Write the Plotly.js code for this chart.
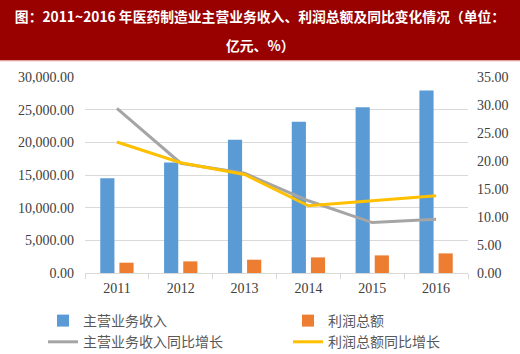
<!DOCTYPE html>
<html>
<head>
<meta charset="utf-8">
<script src="https://cdn.plot.ly/plotly-3.0.1.min.js"></script>
<style>
html,body{margin:0;padding:0;background:#fff;}
#chart{width:520px;height:354px;}
</style>
</head>
<body>
<div id="chart"></div>
<script>
const years = ['2011','2012','2013','2014','2015','2016'];
const revenue = [14484, 16930, 20390, 23140, 25370, 27920];
const profit = [1576, 1780, 2034, 2390, 2695, 3000];
const revenueGrowth = [29.4, 19.6, 17.8, 12.9, 9.0, 9.6];
const profitGrowth = [23.4, 19.7, 17.6, 12.0, 12.9, 13.8];
const names = ['主营业务收入', '利润总额', '主营业务收入同比增长', '利润总额同比增长'];
const titleLine1 = '图：2011~2016 年医药制造业主营业务收入、利润总额及同比变化情况（单位：';
const titleLine2 = '亿元、%）';

const serif = '"Liberation Serif", "Times New Roman", serif';
const cjk = '"Noto Sans CJK SC", sans-serif';

const traces = [
  {type:'bar', x:years, y:revenue, name:names[0], marker:{color:'#5B9BD5'}, legend:'legend', legendgroup:'a', hoverinfo:'skip'},
  {type:'bar', x:years, y:profit, name:names[1], marker:{color:'#ED7D31'}, legend:'legend2', legendgroup:'b', hoverinfo:'skip'},
  {type:'scatter', mode:'lines', x:years, y:revenueGrowth, name:names[2], yaxis:'y2', line:{color:'#A5A5A5', width:3}, legend:'legend', legendgroup:'c', hoverinfo:'skip'},
  {type:'scatter', mode:'lines', x:years, y:profitGrowth, name:names[3], yaxis:'y2', line:{color:'#FFC000', width:3}, legend:'legend2', legendgroup:'d', hoverinfo:'skip'}
];

const legendCommon = {orientation:'v', yanchor:'top', xanchor:'left', bgcolor:'rgba(0,0,0,0)', font:{family:cjk, size:14, color:'#595959'}, tracegroupgap:3, traceorder:'normal'};

const layout = {
  width:520, height:354,
  margin:{l:85, r:52, t:77, b:81, autoexpand:false},
  paper_bgcolor:'#fff', plot_bgcolor:'#fff',
  barmode:'group', bargap:0.4, bargroupgap:0.26,
  title:{text:titleLine1, font:{family:cjk, size:13.8, color:'#fff', weight:'bold'}, x:0.5, xanchor:'center', xref:'container', y:1-17/354, yanchor:'middle', yref:'container', automargin:false},
  annotations:[{text:titleLine2, xref:'paper', yref:'paper', x:(260-85)/383, y:1+(273-45-196)/196, yanchor:'middle', xanchor:'center', showarrow:false, font:{family:cjk, size:13.8, color:'#fff', weight:'bold'}}],
  shapes:[
    {type:'rect', xref:'paper', yref:'paper', x0:-1, x1:2, y0:1+(273-60.5-196)/196, y1:2, fillcolor:'#990000', line:{width:0}, layer:'below'},
    {type:'line', xref:'paper', yref:'paper', x0:-1, x1:2, y0:1+(273-61-196)/196, y1:1+(273-61-196)/196, line:{color:'#F2C4C4', width:1}, layer:'below'}
  ],
  xaxis:{type:'category', showgrid:false, showline:true, linecolor:'#D9D9D9', linewidth:1, ticks:'outside', tickson:'boundaries', ticklen:5, tickcolor:'#D9D9D9', tickfont:{family:serif, size:14, color:'#404040'}, ticklabelstandoff:2, fixedrange:true, automargin:false},
  yaxis:{range:[0,30000], dtick:5000, tickformat:',.2f', showgrid:true, gridcolor:'#D9D9D9', gridwidth:1, zeroline:false, showline:false, tickfont:{family:serif, size:14, color:'#404040'}, ticklabelstandoff:10, fixedrange:true, automargin:false},
  yaxis2:{range:[0,35], dtick:5, tickformat:'.2f', overlaying:'y', side:'right', showgrid:false, zeroline:false, showline:false, tickfont:{family:serif, size:14, color:'#404040'}, ticklabelstandoff:8, fixedrange:true, automargin:false},
  legend:Object.assign({}, legendCommon, {x:(43-85)/383, y:-(305-273)/196}),
  legend2:Object.assign({}, legendCommon, {x:(288-85)/383, y:-(305-273)/196})
};

Plotly.newPlot('chart', traces, layout, {displayModeBar:false, staticPlot:true});
</script>
</body>
</html>
